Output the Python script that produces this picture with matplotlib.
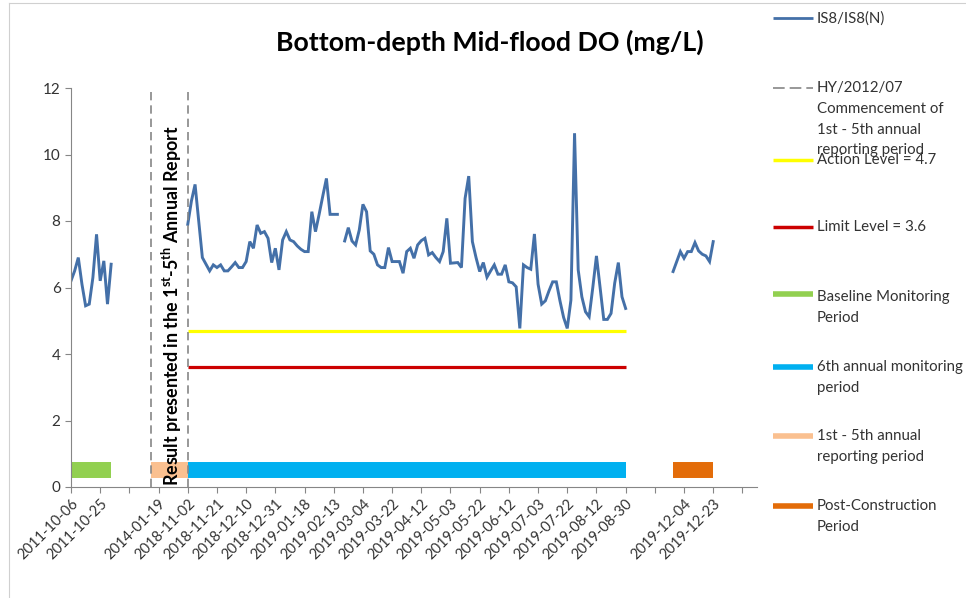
import matplotlib.pyplot as plt
from matplotlib.lines import Line2D
import numpy as np

plt.rcParams['font.family'] = ['Lato', 'DejaVu Sans']
plt.rcParams['mathtext.fontset'] = 'custom'
plt.rcParams['mathtext.rm'] = 'Lato'
plt.rcParams['mathtext.bf'] = 'Lato:bold'

# category axis: one slot per sampling date, a label on every 8th slot
tick_pos = list(range(0, 185, 8))
tick_labels = ['2011-10-06', '2011-10-25', '', '2014-01-19', '2018-11-02',
               '2018-11-21', '2018-12-10', '2018-12-31', '2019-01-18',
               '2019-02-13', '2019-03-04', '2019-03-22', '2019-04-12',
               '2019-05-03', '2019-05-22', '2019-06-12', '2019-07-03',
               '2019-07-22', '2019-08-12', '2019-08-30', '', '2019-12-04',
               '2019-12-23', '']

# DO readings (mg/L), each block starts at a category slot
baseline_start = 0
baseline_do = [6.2, 6.5, 6.9, 6.1, 5.45, 5.5, 6.3, 7.6, 6.2, 6.8, 5.5, 6.7]

impact_start = 32
impact_do = [7.9, 8.6, 9.1, 8.0, 6.9, 6.7, 6.5, 6.68, 6.6, 6.68,
             6.5, 6.5, 6.62, 6.75, 6.6, 6.6, 6.78, 7.38, 7.18, 7.88,
             7.63, 7.68, 7.48, 6.75, 7.18, 6.53, 7.43, 7.68, 7.43, 7.38,
             7.25, 7.15, 7.08, 7.08, 8.28, 7.68, 8.2, 8.75, 9.28, 8.2,
             8.2, 8.2, None, 7.4, 7.8, 7.4, 7.28, 7.73, 8.5, 8.28,
             7.1, 7.0, 6.68, 6.6, 6.6, 7.2, 6.78, 6.78, 6.78, 6.43,
             7.08, 7.18, 6.88, 7.28, 7.41, 7.48, 6.98, 7.05, 6.9, 6.78,
             7.08, 8.08, 6.73, 6.74, 6.75, 6.6, 8.68, 9.35, 7.38, 6.9,
             6.48, 6.75, 6.31, 6.5, 6.68, 6.4, 6.4, 6.68, 6.17, 6.14,
             6.02, 4.77, 6.68, 6.6, 6.55, 7.61, 6.1, 5.5, 5.6, 5.9,
             6.17, 6.17, 5.6, 5.1, 4.77, 5.62, 10.64, 6.53, 5.72, 5.27,
             5.12, 6.0, 6.95, 6.0, 5.04, 5.04, 5.22, 6.13, 6.75, 5.72,
             5.37]

post_start = 165
post_do = [6.48, 6.78, 7.08, 6.88, 7.08, 7.08, 7.35, 7.1, 7.0, 6.95, 6.78, 7.38]

action_level = 4.7
limit_level = 3.6
level_span = (32, 152)

period_names = ['Baseline Monitoring\nPeriod', '6th annual monitoring\nperiod',
                '1st - 5th annual\nreporting period', 'Post-Construction\nPeriod']
period_spans = [(0, 11), (32, 152), (22, 32), (165, 176)]
period_colors = ['#92D050', '#00B0F0', '#FAC090', '#E36C09']
period_level = 0.5

commence_lines = [22, 32]

line_color = '#4470A8'
grey = '#868686'

W, H = 966, 598
fig = plt.figure(figsize=(W / 100, H / 100), dpi=100)
ax = fig.add_axes([71 / W, 1 - 487 / H, 686 / W, 399 / H])


def seg(start, vals):
    x = np.arange(start, start + len(vals))
    y = np.array([np.nan if v is None else v for v in vals], dtype=float)
    return x, y


for start, vals in [(baseline_start, baseline_do), (impact_start, impact_do),
                    (post_start, post_do)]:
    x, y = seg(start, vals)
    ax.plot(x, y, color=line_color, lw=2.1, solid_joinstyle='miter')

ax.plot(level_span, [action_level] * 2, color='#FFFF00', lw=2.3, solid_capstyle='butt')
ax.plot(level_span, [limit_level] * 2, color='#CC0000', lw=2.3, solid_capstyle='butt')

for (a, b), c in zip(period_spans, period_colors):
    ax.plot([a, b], [period_level] * 2, color=c, lw=11.5, solid_capstyle='butt')

for xc in commence_lines:
    ax.axvline(xc, color=grey, lw=1.2, ls=(0, (5, 3)))

ax.text(27.7, 5.45, r'Result presented in the 1$^{\mathbf{st}}$-5$^{\mathbf{th}}$ Annual Report',
        rotation=90, ha='center', va='center', fontsize=12.9, fontweight='bold', color='black')

ax.set_xlim(0, 188)
ax.set_ylim(0, 12)
ax.set_yticks(range(0, 13, 2))
ax.set_xticks(tick_pos)
ax.set_xticklabels(tick_labels, rotation=45, ha='right', rotation_mode='anchor')
ax.tick_params(axis='both', direction='out', color=grey, length=4, labelsize=11, labelcolor='#333333')
ax.tick_params(axis='x', labelsize=10.5, pad=3)
for s in ['top', 'right']:
    ax.spines[s].set_visible(False)
for s in ['left', 'bottom']:
    ax.spines[s].set_color(grey)

fig.text(490 / W, 1 - 42 / H, 'Bottom-depth Mid-flood DO (mg/L)', ha='center', va='center',
         fontsize=19.3, fontweight='bold', color='black')

# legend drawn by hand to follow the original layout
def fx(px):
    return px / W


def fy(py):
    return 1 - py / H


legend_rows = [
    ('IS8/IS8(N)', dict(color=line_color, lw=2.0), 18, 18),
    ('HY/2012/07\nCommencement of\n1st - 5th annual\nreporting period',
     dict(color=grey, lw=1.2, ls=(0, (7, 3))), 88, 88),
    ('Action Level = 4.7', dict(color='#FFFF00', lw=2.5), 160, 160),
    ('Limit Level = 3.6', dict(color='#CC0000', lw=2.5), 227, 227),
]
for c, nm, yy, ty in zip(period_colors, period_names, [294, 367, 436, 506], [297, 367, 436, 506]):
    legend_rows.append((nm, dict(color=c, lw=4), yy, ty))

for label, style, yy, ty in legend_rows:
    fig.add_artist(Line2D([fx(773), fx(813)], [fy(yy), fy(yy)], solid_capstyle='butt', **style))
    fig.text(fx(817), fy(ty - 7), label, ha='left', va='top', fontsize=10.8,
             color='#333333', linespacing=1.62)

fig.add_artist(Line2D([fx(9), fx(9)], [0, fy(3)], color='#d0d0d0', lw=0.8))
fig.add_artist(Line2D([fx(9), 1], [fy(3), fy(3)], color='#d0d0d0', lw=0.8))

fig.savefig('out.png', dpi=100)
